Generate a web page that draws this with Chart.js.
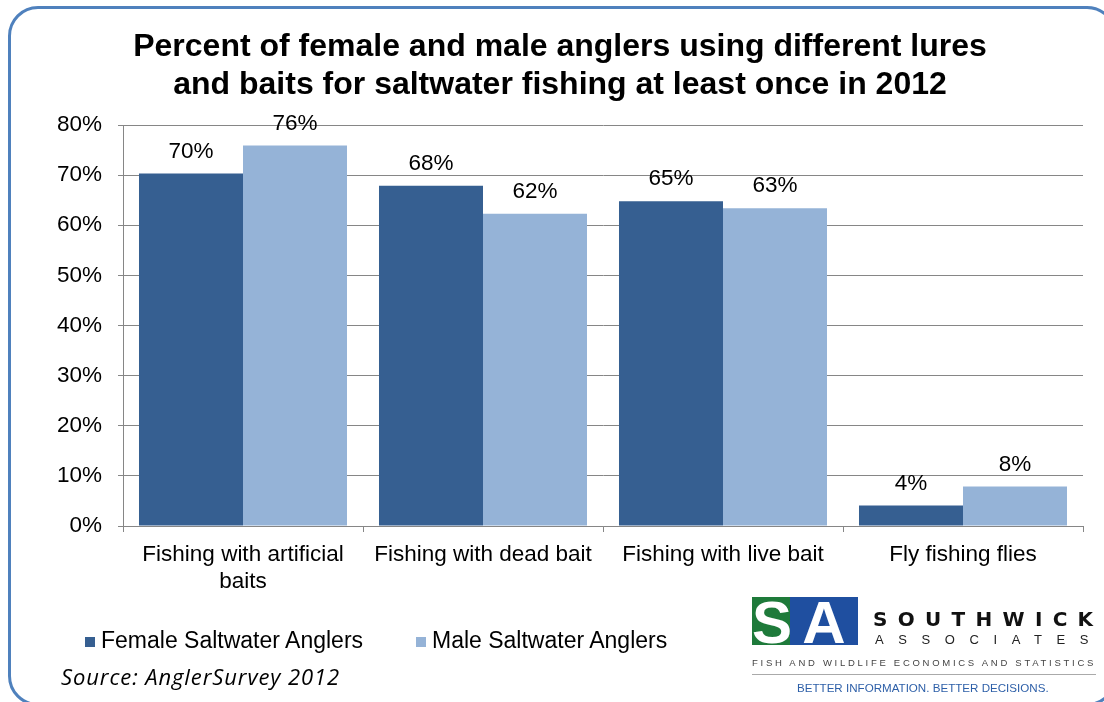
<!DOCTYPE html>
<html>
<head>
<meta charset="utf-8">
<script src="https://cdn.jsdelivr.net/npm/chart.js@4.4.1/dist/chart.umd.min.js"></script>
<style>
  html, body { margin:0; padding:0; background:#fff; width:1104px; height:702px; overflow:hidden; }
  #wrap { position:relative; width:1104px; height:702px; overflow:hidden; }
  #frame { position:absolute; left:8px; top:6px; width:1109px; height:700px; border:3px solid #4F81BD; border-radius:30px; box-sizing:border-box; }
  canvas { position:absolute; left:0; top:0; }
  #title { position:absolute; left:0; top:26px; width:1120px; text-align:center; font:bold 32px "Liberation Sans", Arial, sans-serif; line-height:38px; color:#000; }
  .leg { position:absolute; top:626px; font:23px "Liberation Sans", Arial, sans-serif; color:#000; line-height:28px; }
  .sq { display:inline-block; width:10px; height:10px; margin-right:6px; vertical-align:1px; }
  #source { position:absolute; left:61px; top:661px; font:italic 22px "Open Sans", sans-serif; color:#000; letter-spacing:0.9px; line-height:30px; white-space:nowrap; }
  #logo { position:absolute; left:752px; top:597px; width:346px; height:100px; font-family:"Liberation Sans", Arial, sans-serif; }
  .blk { position:absolute; top:0; height:48px; color:#fff; font:bold 60px "Liberation Sans", Arial, sans-serif; line-height:52px; text-align:center; overflow:hidden; }
  #sw { position:absolute; left:121px; top:11px; font:900 20px "DejaVu Sans", sans-serif; letter-spacing:10.3px; color:#111; line-height:22px; white-space:nowrap; }
  #as { position:absolute; left:123px; top:36px; font:13px "Liberation Sans", Arial, sans-serif; letter-spacing:14.6px; color:#222; line-height:14px; white-space:nowrap; }
  #fw { position:absolute; left:0; top:60px; width:346px; font:9.5px "Liberation Sans", Arial, sans-serif; letter-spacing:2.72px; color:#444; line-height:12px; white-space:nowrap; }
  #ln { position:absolute; left:0; top:77px; width:344px; height:1px; background:#aaa; }
  #bi { position:absolute; left:45px; top:84px; font:11.6px "Liberation Sans", Arial, sans-serif; color:#2D5FA8; line-height:14px; white-space:nowrap; letter-spacing:0px; }
</style>
</head>
<body>
<div id="wrap">
  <div id="frame"></div>
  <canvas id="c" width="1104" height="702"></canvas>
  <div id="title">Percent of female and male anglers using different lures<br>and baits for saltwater fishing at least once in 2012</div>
  <div class="leg" style="left:85px"><span class="sq" style="background:#365F91"></span>Female Saltwater Anglers</div>
  <div class="leg" style="left:416px"><span class="sq" style="background:#95B3D7"></span>Male Saltwater Anglers</div>
  <div id="source">Source: AnglerSurvey 2012</div>
  <div id="logo">
    <div class="blk" style="left:0;width:40px;background:#1E7A3A;">S</div>
    <div class="blk" style="left:38px;width:68px;background:#1F4FA0;">A</div>
    <div id="sw">SOUTHWICK</div>
    <div id="as">ASSOCIATES</div>
    <div id="fw">FISH AND WILDLIFE ECONOMICS AND STATISTICS</div>
    <div id="ln"></div>
    <div id="bi">BETTER INFORMATION. BETTER DECISIONS.</div>
  </div>
</div>
<script>
const categories = [["Fishing with artificial","baits"], "Fishing with dead bait", "Fishing with live bait", "Fly fishing flies"];
const femaleValues = [70.3, 67.9, 64.8, 4.1];
const maleValues = [75.9, 62.3, 63.4, 7.9];
const yTicks = [0, 10, 20, 30, 40, 50, 60, 70, 80];

const labelPlugin = {
  id: 'valueLabels',
  afterDatasetsDraw(chart) {
    const ctx = chart.ctx;
    ctx.save();
    ctx.font = '22.5px "Liberation Sans", Arial, sans-serif';
    ctx.fillStyle = '#000';
    ctx.textAlign = 'center';
    ctx.textBaseline = 'middle';
    chart.data.datasets.forEach((ds, i) => {
      chart.getDatasetMeta(i).data.forEach((bar, j) => {
        ctx.fillText(Math.round(ds.data[j]) + '%', bar.x, bar.y - 22);
      });
    });
    ctx.restore();
  }
};

new Chart(document.getElementById('c'), {
  type: 'bar',
  data: {
    labels: categories,
    datasets: [
      { label: 'Female Saltwater Anglers', data: femaleValues, backgroundColor: '#365F91', categoryPercentage: 0.8667, barPercentage: 1 },
      { label: 'Male Saltwater Anglers', data: maleValues, backgroundColor: '#95B3D7', categoryPercentage: 0.8667, barPercentage: 1 }
    ]
  },
  options: {
    responsive: false,
    animation: false,
    devicePixelRatio: 1,
    layout: { padding: { top: 125, left: 0, right: 21, bottom: 0 } },
    plugins: { legend: { display: false }, tooltip: { enabled: false }, title: { display: false } },
    scales: {
      x: {
        afterFit(s) { s.height = 176; },
        grid: { offset: true, drawOnChartArea: false, tickLength: 6, color: '#868686' },
        border: { color: '#868686' },
        ticks: { font: { family: '"Liberation Sans", Arial, sans-serif', size: 22.5, lineHeight: 1.17 }, color: '#000', padding: 10, maxRotation: 0, autoSkip: false }
      },
      y: {
        min: 0, max: 80,
        afterFit(s) { s.width = 123; },
        afterBuildTicks(s) { s.ticks = yTicks.map(v => ({ value: v })); },
        grid: { color: '#868686', tickLength: 5 },
        border: { color: '#868686' },
        ticks: { font: { family: '"Liberation Sans", Arial, sans-serif', size: 22.5 }, color: '#000', padding: 16, callback: v => v + '%' }
      }
    }
  },
  plugins: [labelPlugin]
});
</script>
</body>
</html>
